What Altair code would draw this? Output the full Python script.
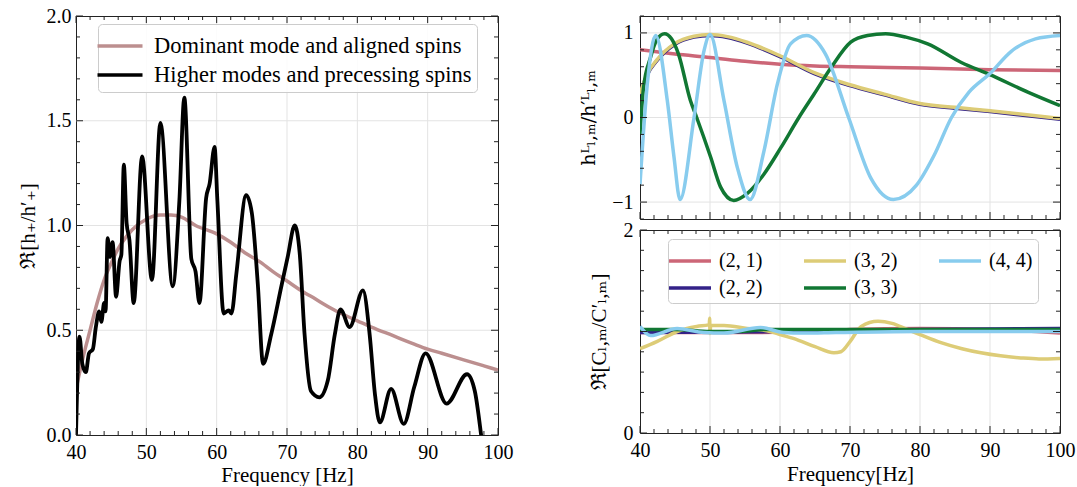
import altair as alt
import pandas as pd

FONT = "Liberation Serif, DejaVu Serif, serif"

# ---------------- Left panel data ----------------
DOM_F = [40, 41, 42, 43, 44, 45, 46, 47, 48, 50, 52, 53.5, 55, 57, 60, 62, 64, 66, 68, 70,
         72, 74, 76, 78, 80, 82, 85, 88, 90, 92, 95, 98, 100]
DOM_V = [0.22, 0.37, 0.50, 0.63, 0.74, 0.82, 0.89, 0.94, 0.98, 1.03, 1.05, 1.05, 1.04, 1.00,
         0.96, 0.92, 0.87, 0.83, 0.78, 0.735, 0.69, 0.65, 0.61, 0.575, 0.545, 0.515, 0.475,
         0.435, 0.41, 0.39, 0.36, 0.33, 0.31]

HIGH_F = [40.0, 40.5, 40.9, 41.4, 41.85, 42.4, 42.8, 43.3, 43.6, 44.0, 44.2, 44.5, 44.8, 45.2,
          45.7, 46.2, 46.45, 46.8, 47.2, 47.6, 48.2, 49.4, 50.8, 52.0, 53.75, 54.7, 55.4, 56.4,
          57.0, 57.55, 58.5, 59.0, 59.7, 60.1, 61.0, 61.7, 62.1, 62.8, 64.2, 65.0, 65.85, 66.6,
          67.75, 69.2, 70.1, 71.1, 71.8, 72.5, 73.4, 74.6, 75.8, 76.8, 77.6, 78.9, 80.8, 81.75,
          82.5, 83.2, 84.8, 86.6, 88.1, 89.7, 92.7, 95.6, 96.7, 97.6, 98.3]
HIGH_V = [0.0, 0.47, 0.34, 0.30, 0.39, 0.41, 0.51, 0.59, 0.54, 0.63, 0.59, 0.94, 0.85, 0.92,
          0.66, 0.83, 0.86, 1.29, 1.01, 0.93, 0.63, 1.33, 0.74, 1.49, 0.71, 1.12, 1.61, 0.84,
          0.78, 0.63, 1.13, 1.20, 1.375, 1.12, 0.58, 0.595, 0.58, 0.77, 1.145, 1.06, 0.72, 0.34,
          0.48, 0.71, 0.85, 1.0, 0.87, 0.48, 0.21, 0.18, 0.26, 0.48, 0.60, 0.515, 0.69, 0.48,
          0.196, 0.06, 0.22, 0.053, 0.23, 0.39, 0.15, 0.29, 0.21, 0.0, -0.2]

LEFT_NAMES = ["Dominant mode and aligned spins", "Higher modes and precessing spins"]
LEFT_COLORS = ["#bc8f8f", "#000000"]

# ---------------- Right top panel data (h^L / h'^L) ----------------
T21_F = [40, 45, 50, 55, 60, 65, 70, 80, 90, 100]
T21_V = [0.80, 0.75, 0.71, 0.665, 0.63, 0.61, 0.60, 0.585, 0.565, 0.557]

T22_F = [40, 41, 42.5, 44.9, 47.7, 50, 52.5, 55.3, 60, 64.9, 70, 74.9, 80, 85, 90, 100]
T22_V = [0.27, 0.50, 0.68, 0.86, 0.95, 0.97, 0.946, 0.88, 0.72, 0.52, 0.377, 0.267, 0.156,
         0.11, 0.07, -0.02]

T32_F = [40, 41, 42.5, 44.9, 47.7, 50, 52.5, 55.3, 60, 64.9, 70, 74.9, 80, 85, 90, 100]
T32_V = [0.28, 0.51, 0.69, 0.87, 0.96, 0.98, 0.956, 0.89, 0.73, 0.53, 0.387, 0.277, 0.166,
         0.12, 0.08, -0.01]

T33_F = [40.0, 40.5, 41.5, 42.4, 43.5, 44.5, 45.5, 47.2, 48.1, 50.1, 51.5, 53.4, 55.3, 57.7,
         60.1, 62.7, 64.9, 67.3, 70.1, 72.5, 75.1, 78.0, 81.1, 85.9, 89.9, 95.4, 100]
T33_V = [-0.20, 0.35, 0.71, 0.92, 0.99, 0.93, 0.75, 0.20, 0.0, -0.47, -0.82, -0.98, -0.90,
         -0.67, -0.36, 0.0, 0.28, 0.59, 0.89, 0.97, 0.99, 0.95, 0.87, 0.65, 0.51, 0.30, 0.14]

T44_F = [40.0, 41.05, 42.24, 43.9, 44.86, 45.72, 47.72, 49.15, 50.0, 52.0, 53.9, 55.73, 57.7,
         59.64, 61.5, 63.8, 66.5, 69.8, 73.0, 76.2, 79.5, 82.0, 84.5, 87.0, 90.0, 93.0, 96.5, 100]
T44_V = [-0.79, 0.40, 0.97, 0.20, -0.47, -0.97, 0.0, 0.79, 0.98, 0.20, -0.59, -0.97, -0.40,
         0.40, 0.87, 0.97, 0.75, 0.0, -0.72, -0.97, -0.80, -0.45, 0.0, 0.30, 0.52, 0.78, 0.93,
         0.97]

# ---------------- Right bottom panel data (C / C') ----------------
B21_F = [40, 55, 65, 70, 80, 90, 100]
B21_V = [0.99, 0.99, 1.0, 1.02, 1.03, 1.02, 0.985]

B22_F = [40, 60, 80, 100]
B22_V = [0.99, 1.0, 1.02, 1.03]

B32_F = [40, 42.4, 45.3, 48.1, 49.8, 49.9, 49.95, 50.0, 50.1, 52, 55.3, 58.6, 60, 62.4, 65,
         67.7, 68.7, 70, 71.6, 74, 76, 78.2, 80, 83, 86, 88.7, 91.5, 94.4, 97, 100]
B32_V = [0.83, 0.90, 1.00, 1.05, 1.065, 1.07, 1.13, 0.98, 1.06, 1.06, 1.03, 1.00, 0.97, 0.92,
         0.85, 0.79, 0.80, 0.90, 1.05, 1.10, 1.08, 1.02, 0.97, 0.89, 0.83, 0.79, 0.76, 0.74,
         0.73, 0.735]

B33_F = [40, 45, 50, 54, 58, 65, 80, 100]
B33_V = [1.02, 1.02, 1.0, 1.0, 1.02, 1.02, 1.02, 1.02]

B44_F = [40, 41.5, 45.3, 49.1, 52, 57.2, 60.5, 63.3, 68, 80, 100]
B44_V = [1.05, 0.96, 1.03, 0.99, 0.985, 1.04, 0.99, 0.985, 0.99, 1.0, 1.0]

MODES = ["(2, 1)", "(2, 2)", "(3, 2)", "(3, 3)", "(4, 4)"]
MODE_COLORS = ["#cc6677", "#332288", "#ddcc77", "#117733", "#88ccee"]

# ---------------- Ticks and grid ----------------
X_MAJOR = [40, 50, 60, 70, 80, 90, 100]
X_MINOR = [42, 44, 46, 48, 52, 54, 56, 58, 62, 64, 66, 68, 72, 74, 76, 78, 82, 84, 86, 88,
           92, 94, 96, 98]
X_GRID = [50, 60, 70, 80, 90]
L_Y_MAJOR = [0.0, 0.5, 1.0, 1.5, 2.0]
L_Y_MINOR = [0.1, 0.2, 0.3, 0.4, 0.6, 0.7, 0.8, 0.9, 1.1, 1.2, 1.3, 1.4, 1.6, 1.7, 1.8, 1.9]
L_Y_GRID = [0.5, 1.0, 1.5]
T_Y_MAJOR = [-1, 0, 1]
T_Y_MINOR = [-1.2, -0.8, -0.6, -0.4, -0.2, 0.2, 0.4, 0.6, 0.8, 1.2]
T_Y_GRID = [-1, 0, 1]
B_Y_MAJOR = [0, 1, 2]
B_Y_MINOR = [0.2, 0.4, 0.6, 0.8, 1.2, 1.4, 1.6, 1.8]
B_Y_GRID = [1]

LW, LH = 422, 419
RW, RH = 420, 203
MAJ, MIN = 7, 4
GRID_COLOR = "#e3e3e3"


def grid_layers(xg, yg, xsc, ysc, xax, yax, W, H):
    gx = alt.Chart(pd.DataFrame({"f": xg})).mark_rule(color=GRID_COLOR, strokeWidth=1).encode(
        x=alt.X("f:Q", scale=xsc, axis=xax), y=alt.value(0), y2=alt.value(H))
    gy = alt.Chart(pd.DataFrame({"v": yg})).mark_rule(color=GRID_COLOR, strokeWidth=1).encode(
        y=alt.Y("v:Q", scale=ysc, axis=yax), x=alt.value(0), x2=alt.value(W))
    return [gx, gy]


def tick_layers(xmaj, xmin, ymaj, ymin, xsc, ysc, xax, yax, W, H):
    layers = []
    for vals, ln in ((xmaj, MAJ), (xmin, MIN)):
        base = alt.Chart(pd.DataFrame({"f": vals})).mark_rule(color="#222222", strokeWidth=1)
        xe = alt.X("f:Q", scale=xsc, axis=xax)
        layers.append(base.encode(x=xe, y=alt.value(H), y2=alt.value(H - ln)))
        layers.append(base.encode(x=xe, y=alt.value(0), y2=alt.value(ln)))
    for vals, ln in ((ymaj, MAJ), (ymin, MIN)):
        base = alt.Chart(pd.DataFrame({"v": vals})).mark_rule(color="#222222", strokeWidth=1)
        ye = alt.Y("v:Q", scale=ysc, axis=yax)
        layers.append(base.encode(y=ye, x=alt.value(0), x2=alt.value(ln)))
        layers.append(base.encode(y=ye, x=alt.value(W), x2=alt.value(W - ln)))
    return layers


def make_legend(x, y, path, fs, offset, rowpad, columns=None, colpad=None):
    kw = dict(orient="none", legendX=x, legendY=y, title=None,
              symbolType=path, symbolSize=900, symbolStrokeWidth=3.5,
              labelFont=FONT, labelFontSize=fs, labelColor="black", labelLimit=500,
              labelOffset=offset, rowPadding=rowpad, padding=5,
              fillColor="rgba(255,255,255,0.85)", strokeColor="#cccccc", cornerRadius=4)
    if columns:
        kw["columns"] = columns
        kw["columnPadding"] = colpad
    return alt.Legend(**kw)


# ---------------- Left chart ----------------
left_df = pd.concat([
    pd.DataFrame({"f": DOM_F, "v": DOM_V, "s": LEFT_NAMES[0]}),
    pd.DataFrame({"f": HIGH_F, "v": HIGH_V, "s": LEFT_NAMES[1]}),
])
lx = alt.Scale(domain=[40, 100], nice=False, zero=False)
ly = alt.Scale(domain=[0, 2], nice=False, zero=False)
lxax = alt.Axis(values=X_MAJOR, format="d", title="Frequency [Hz]",
                labelFlush=False, labelPadding=7, titlePadding=2)
lyax = alt.Axis(values=L_Y_MAJOR, format=".1f", title="ℜ[h₊/h′₊]",
                labelFlush=False, labelPadding=5, titlePadding=8)
lcolor = alt.Color("s:N", scale=alt.Scale(domain=LEFT_NAMES, range=LEFT_COLORS),
                   legend=make_legend(22, 8, "M-1.5,0H1.5", 22.5, 17, -6))
left_lines = []
for name, sw in zip(LEFT_NAMES, [3.5, 3.8]):
    left_lines.append(
        alt.Chart(left_df).transform_filter(alt.datum.s == name)
        .mark_line(interpolate="monotone", strokeWidth=sw, clip=True)
        .encode(x=alt.X("f:Q", scale=lx, axis=lxax), y=alt.Y("v:Q", scale=ly, axis=lyax), color=lcolor)
    )
left = alt.layer(*grid_layers(X_GRID, L_Y_GRID, lx, ly, lxax, lyax, LW, LH),
                 *left_lines,
                 *tick_layers(X_MAJOR, X_MINOR, L_Y_MAJOR, L_Y_MINOR, lx, ly, lxax, lyax, LW, LH)
                 ).properties(width=LW, height=LH)

# ---------------- Right charts ----------------
top_parts = [(T21_F, T21_V), (T22_F, T22_V), (T32_F, T32_V), (T33_F, T33_V), (T44_F, T44_V)]
top_df = pd.concat([pd.DataFrame({"f": f, "v": v, "s": m}) for m, (f, v) in zip(MODES, top_parts)])
bot_parts = [(B21_F, B21_V), (B22_F, B22_V), (B32_F, B32_V), (B33_F, B33_V), (B44_F, B44_V)]
bot_df = pd.concat([pd.DataFrame({"f": f, "v": v, "s": m}) for m, (f, v) in zip(MODES, bot_parts)])

rx = alt.Scale(domain=[40, 100], nice=False, zero=False)
ty = alt.Scale(domain=[-1.2, 1.2], nice=False, zero=False)
by = alt.Scale(domain=[0, 2], nice=False, zero=False)
mode_scale = alt.Scale(domain=MODES, range=MODE_COLORS)

txax = alt.Axis(values=X_MAJOR, labels=False, title=None)
tyax = alt.Axis(values=T_Y_MAJOR, format="d", title="hᴸₗ,ₘ/h′ᴸₗ,ₘ",
                titleFont="DejaVu Serif, DejaVu Sans, serif", titleFontSize=19,
                labelFlush=False, labelPadding=7, titlePadding=13)
top_lines = []
for m in MODES:
    top_lines.append(
        alt.Chart(top_df).transform_filter(alt.datum.s == m)
        .mark_line(interpolate="monotone", strokeWidth=3.5, clip=True)
        .encode(x=alt.X("f:Q", scale=rx, axis=txax), y=alt.Y("v:Q", scale=ty, axis=tyax),
                color=alt.Color("s:N", scale=mode_scale, legend=None))
    )
top = alt.layer(*grid_layers(X_GRID, T_Y_GRID, rx, ty, txax, tyax, RW, RH),
                *top_lines,
                *tick_layers(X_MAJOR, X_MINOR, T_Y_MAJOR, T_Y_MINOR, rx, ty, txax, tyax, RW, RH)
                ).properties(width=RW, height=RH)

bxax = alt.Axis(values=X_MAJOR, format="d", title="Frequency[Hz]",
                labelFlush=False, labelPadding=7, titlePadding=3)
byax = alt.Axis(values=B_Y_MAJOR, format="d", title="ℜ[Cₗ,ₘ/C′ₗ,ₘ]",
                labelFlush=False, labelPadding=7, titlePadding=14)
bot_legend = make_legend(28, 9, "M-1.4,0H1.4", 20, 12, -5, columns=3, colpad=34)
bot_lines = []
for m in MODES:
    bot_lines.append(
        alt.Chart(bot_df).transform_filter(alt.datum.s == m)
        .mark_line(interpolate="monotone", strokeWidth=3.5, clip=True)
        .encode(x=alt.X("f:Q", scale=rx, axis=bxax), y=alt.Y("v:Q", scale=by, axis=byax),
                color=alt.Color("s:N", scale=mode_scale, legend=bot_legend))
    )
bot = alt.layer(*grid_layers(X_GRID, B_Y_GRID, rx, by, bxax, byax, RW, RH),
                *bot_lines,
                *tick_layers(X_MAJOR, X_MINOR, B_Y_MAJOR, B_Y_MINOR, rx, by, bxax, byax, RW, RH)
                ).properties(width=RW, height=RH)

right = alt.vconcat(top, bot, spacing=11, bounds="flush").resolve_scale(
    x="independent", y="independent", color="independent")

chart = alt.hconcat(left, right, spacing=142, bounds="flush").resolve_scale(
    x="independent", y="independent", color="independent"
).properties(
    padding={"left": 16, "top": 5, "right": 0, "bottom": 0}
).configure(
    font=FONT,
    background="white",
).configure_view(
    stroke="#222222", strokeWidth=1
).configure_axis(
    labelFont=FONT, labelFontSize=20, labelColor="black",
    titleFont=FONT, titleFontSize=21, titleFontWeight="normal", titleColor="black",
    grid=False, domain=False, ticks=False,
)

chart.save("out.html", embed_options={"renderer": "svg", "actions": False})
